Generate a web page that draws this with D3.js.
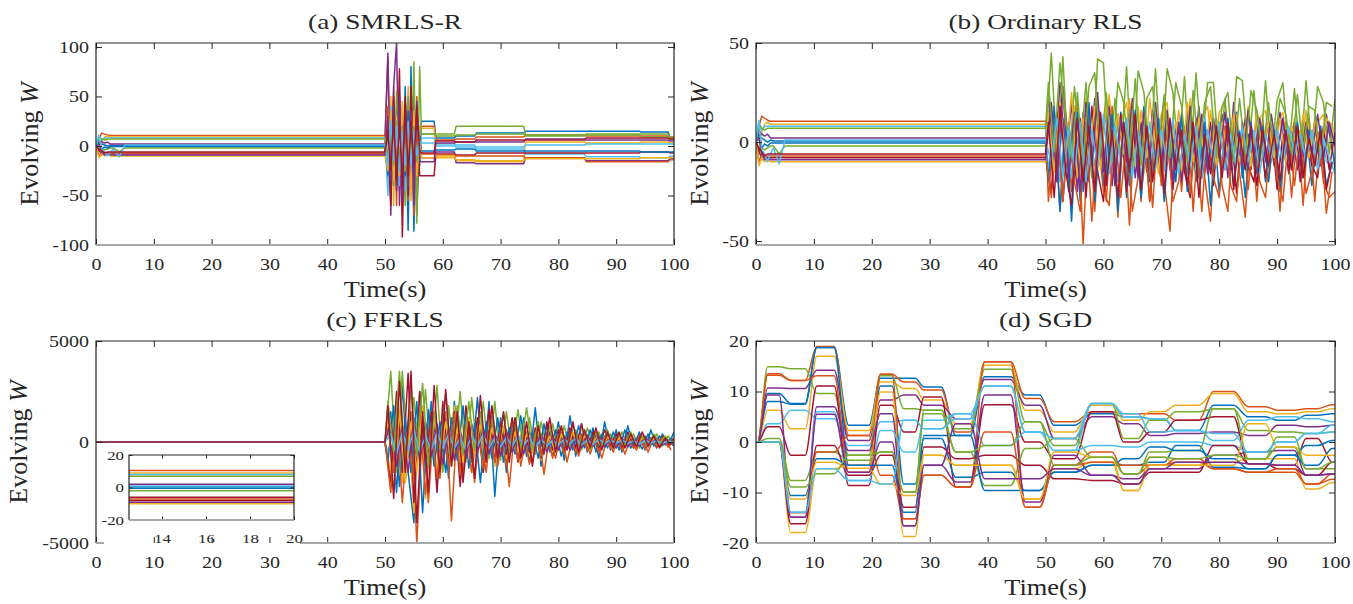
<!DOCTYPE html>
<html>
<head>
<meta charset="utf-8">
<script src="https://cdn.jsdelivr.net/npm/d3@7"></script>
<style>
  body { margin: 0; background: #fff; }
  svg { display: block; }
</style>
</head>
<body>
<svg id="fig" width="1353" height="604"></svg>
<script>
// MATLAB default line colours, cycled over the weights
const colors = ["#0072BD", "#D95319", "#EDB120", "#7E2F8E", "#77AC30", "#4DBEEE", "#A2142F"];

// start-up transient shared by the RLS variants (t = 0..5 s)
const warmTimes = [0, 0.5, 1, 1.5, 2, 2.5, 3, 4, 5];
const warmup = [
  [0, 4, 2, 1, 0, 1, 0.5, 0.5, 0.5],
  [0, 8, 13, 12, 11, 10.5, 10.5, 10.5, 10.5],
  [0, -6, 5, 9, 10, 9, 9, 9, 9],
  [0, 6, 4, 3, 4, 2, 2, 2, 2],
  [0, -5, -3, -4, -3, -2, -2, -6, -2],
  [0, 10, 6, 8, 8, 8, 8, 8, 8],
  [0, -4, -9, -7, -8, -8, -8, -8, -8],
  [0, 3, -3, -1, -2, -0.5, -0.5, -0.5, -0.5],
  [0, -10, -6, -8, -7, -7, -7, -7, -7],
  [0, -12, -8, -10, -9, -10, -10, -10, -10],
  [0, 2, -6, -9, -8, -9, -9, -9, -9],
  [0, 9, 7, 6, 7, 7, 7, 7, 7],
  [0, 11, -4, -6, -10, -6, -3, -11, 1],
  [0, -3, -5, -7, -6, -6, -6, -6, -6]
];
// weight values held from 6 s to 50 s
const levels = [0.5, 10.5, 9, 2, -2, 8, -8, -0.5, -7, -10, -9, 7, 1, -6];

// (a) SMRLS-R: burst after the change at 50 s, then piecewise constant
const aOscTimes = [50.5, 51, 51.5, 52, 52.5, 53, 53.5, 54, 54.5, 55, 55.5, 56];
const aOsc = [
  [10, -55, 40, -30, 45, -40, 60, -85, 80, -86, 40, -20],
  [90, -40, 60, -60, 50, -30, 45, -55, 55, -70, 50, -10],
  [-20, 50, -60, 40, -45, 45, -50, 60, -55, 45, -60, 20],
  [94, -70, 60, 105, -60, 30, -40, 40, -30, 60, -70, 10],
  [-15, 30, -40, 55, -30, 20, -60, 50, -40, 85, -78, 80],
  [-50, 40, -30, 20, -40, 30, -45, 25, -40, 30, -20, 15],
  [20, -60, 50, -40, 78, -92, 40, -50, 60, -30, 30, -30],
  [-30, 20, -20, 30, -25, 25, -30, 35, -35, 30, -25, 10],
  [40, -30, 25, -20, 35, -35, 20, -40, 30, -20, 15, -10],
  [-25, 35, -35, 30, -30, 40, -25, 20, -50, 35, -30, 5],
  [30, -35, 40, -45, 50, -55, 45, -40, 35, -60, 45, -15],
  [-10, 15, -20, 25, -15, 20, -25, 15, -10, 20, -15, 12],
  [-20, 25, -15, 20, -25, 15, -20, 25, -20, 15, -10, 5],
  [15, -25, 30, -35, 25, -40, 50, -30, 25, -20, 40, -5]
];
const aStepTimes = [56.3, 58.8, 62.3, 65.8, 74.3, 84.8, 94.3, 99.3];
const aSteps = [
  [25, 8, 10, 13, 15, 15, 14, 8],
  [20, 6, 7, 9, 11, 10, 10, 9],
  [18, -12, -15, -16, 4, 3, 4, 3],
  [-12, -6, -17, -18, -12, -15, -15, -13],
  [12, 12, 20, 20, 11, 11, 9, 7],
  [8, 2, 1, -3, -8, -11, -12, -10],
  [-30, -8, -9, -7, -7, -7, -6, -7],
  [-5, -4, -3, -5, -5, -5, -6, -6],
  [-8, -9, -10, -10, -12, -16, -16, -14],
  [-12, -10, -14, -15, -13, -13, -12, -12],
  [-16, 3, 4, 4, 7, 6, 6, 5],
  [12, 10, 11, 12, 10, 12, 12, 8],
  [3, 0, -1, -1, 1, 2, 2, 2],
  [-7, 5, 4, 6, 6, 8, 8, 7]
];

// (b) ordinary RLS after 50 s, one value per second (odd weights half a second later)
const bAfter = [
  [15,-20,12,-25,18,-30,10,-15,20,-22, 8,-18,15,-28,12,-10,18,-20,5,-15, 14,-24,10,-12,16,-20,6,-14,12,-26, 8,-10,15,-18,4,-12,10,-20,6,-8, 12,-16,3,-10,8,-22,5,-8,10,-14],
  [-30,12,-35,15,-25,20,-52,14,-35,10, -30,18,-38,10,-42,15,-30,8,-33,12, -20,-45,10,-25,14,-35,8,-18,-40,12, -22,-35,10,-15,-38,8,-30,12,-20,6, -35,10,-28,8,-32,12,-30,5,-36,-15],
  [20,-10,25,-15,18,-20,22,-8,15,-12, 24,-14,10,20,-10,18,-16,22,-6,14, 20,-12,16,-8,22,-14,12,18,-10,15, 20,-8,14,-12,18,-6,12,16,-10,10, 15,-8,12,-10,16,-5,10,14,-6,10],
  [25,-15,30,-10,20,-25,15,-20,22,-12, 18,-22,14,-8,20,-18,10,-15,16,-10, 22,-14,8,-20,15,-10,18,-16,10,-12, 14,-18,20,-8,12,-14,16,-6,10,-12, 15,-10,8,-14,12,-6,10,-12,14,-4],
  [45,-10,43,-15,28,-5,30,-18,42,40, -12,22,-8,38,-15,36,25,-10,37,-12, 37,25,-8,33,-14,35,-5,30,30,-10, 22,-12,33,31,-6,26,-10,31,-8,21, 30,-5,27,-10,31,-4,28,20,-6,22],
  [-15,12,-20,10,-18,15,-22,8,-12,14, -16,10,-20,6,-14,12,-18,8,-10,12, -15,10,-12,6,-16,8,-10,12,-14,5, -12,10,-8,6,-14,8,-10,4,-12,8, -10,6,-8,10,-12,4,-6,8,-10,-12],
  [-25,15,-30,10,-20,12,-28,18,-15,-30, 8,-22,14,-25,10,-18,12,-30,6,-20, 10,-24,8,-15,-28,12,-18,6,-22,10, -14,8,-26,10,-12,-20,6,-18,8,-24, 4,-15,10,-20,6,-12,-18,8,-14,5],
  [-20,18,-35,12,-40,15,-25,20,-30,8, -18,14,-35,10,-22,16,-28,6,-15,12, -30,8,-20,14,-25,6,-18,10,-32,8, -15,12,-22,5,-28,10,-16,8,-20,6, -25,4,-14,10,-18,6,-12,8,-22,-10],
  [-28,8,-30,5,-20,-35,10,-40,6,-25, -32,8,-28,4,-35,-18,6,-30,10,-22, 5,-30,-20,8,-26,4,-35,6,-18,-28, 8,-22,-30,6,-24,4,-20,-28,6,-18, -30,4,-22,6,-26,-15,5,-20,-28,-25],
  [15,-15,20,-10,25,-18,12,-8,18,-14, 20,-10,14,-6,22,-12,16,-8,12,-16, 18,-6,10,-14,20,-10,12,-8,16,-12, 10,-6,14,-10,8,-12,16,-4,10,-8, 12,-10,8,-6,14,-8,10,-4,12,8],
  [20,-20,28,-18,15,-25,20,-12,25,-15, 18,-20,12,-10,22,-18,15,-8,20,-12, 16,-20,10,-14,18,-10,14,-16,12,-8, 15,-14,10,-12,16,-8,12,-10,14,-6, 12,-10,8,-12,10,-6,14,-8,10,-2],
  [30,-5,40,10,-8,25,-12,28,35,-6, 25,-10,30,20,-8,32,-12,22,28,-4, 24,-8,30,18,-10,26,-6,20,28,-8, 18,25,-10,22,-6,26,16,-8,20,-4, 22,14,-6,24,-4,18,16,-8,20,18],
  [-10,12,-18,8,-14,10,-20,6,-12,14, -16,8,-10,12,-18,5,-12,10,-14,6, -10,12,-16,4,-12,8,-18,6,-10,10, -14,4,-12,8,-10,6,-16,4,-8,6, -12,8,-6,4,-10,6,-14,2,-8,-16],
  [10,-28,18,-15,-32,12,-20,8,-25,15, -22,6,-28,10,-15,14,-24,8,-20,4, -26,12,-14,6,-22,10,-28,4,-16,8, -18,10,-24,4,-14,8,-22,6,-12,4, -20,6,-14,8,-18,2,-12,6,-24,-10]
];

// (c) FFRLS after 50 s, same sampling as (b)
const cAfter = [
  [1500,-2500,2800,-1500,-4000,2500,-1000,2000,-2000,1500, -1800,2000,-1200,1500,-1000,2200,-1500,2000,-2700,1200, -1500,1000,-800,1200,-1000,1700,-1200,800,-600,1000, -900,1300,-700,900,-500,700,-800,1000,-400,600, -500,800,-300,500,-400,600,-300,400,-200,500],
  [800,-1500,1200,-2000,1500,-5000,800,-3000,1200,-1800, 1500,-3900,1000,-1500,1200,-2000,800,-1500,1000,-1200, 600,-2200,800,-1200,500,-1000,700,-1600,400,-800, 500,-1000,300,-700,400,-600,300,-800,200,-500, 300,-600,200,-400,300,-500,200,-300,100,-400],
  [-1500,1500,-2000,1000,-3500,2000,-2800,1500,-1500,1000, -1200,1800,-1000,800,-1500,1200,-800,1000,-1200,700, -800,1200,-600,900,-700,500,-900,600,-500,700, -600,500,-400,700,-300,400,-500,300,-300,400, -300,400,-200,300,-300,200,-250,300,-200,200],
  [600,-900,800,-700,500,-800,900,-600,700,-500, 800,-600,500,-700,600,-400,700,-500,400,-600, 500,-400,600,-300,400,-500,300,-400,500,-300, 400,-300,300,-400,200,-300,400,-200,300,-250, 250,-200,300,-150,200,-250,150,-200,200,-100],
  [3500,-1500,3500,-800,2200,-1200,2600,-1000,2800,-1500, 1800,-700,2500,-1000,2200,-600,2000,-800,2000,-900, 1500,-500,1600,-400,1200,-600,1000,-300,900,-400, 800,-300,600,-400,700,-200,500,-300,400,-200, 500,-200,400,-300,300,-150,400,-200,300,-150],
  [-500,600,-400,700,-600,400,-500,300,-400,500, -300,400,-500,300,-400,200,-300,400,-200,300, -250,300,-200,250,-300,200,-150,250,-200,150, -200,150,-250,100,-150,200,-100,150,-120,100, -100,150,-80,100,-120,60,-100,80,-60,50],
  [-2000,2500,-1500,3400,-3000,2500,-1200,1500,-2500,2000, -1000,1500,-2200,1800,-800,1200,-1500,1600,-1000,1000, -600,1200,-1000,800,-500,700,-800,1000,-400,600, -500,700,-300,900,-400,500,-300,600,-200,400, -300,500,-200,300,-350,200,-250,300,-150,200],
  [-1000,1800,-2200,1200,-1500,2000,-3500,1600,-1200,1000, -1500,1200,-900,1800,-1300,900,-2000,1000,-800,1200, -1000,700,-600,1300,-700,500,-800,900,-500,600, -700,500,-400,800,-300,600,-500,400,-300,500, -400,600,-300,200,-350,400,-200,300,-150,200],
  [-2500,1200,-3000,800,-2000,1500,-2600,800,-1800,1000, -1200,1400,-1600,900,-1500,700,-1300,600,-1000,500, -1200,600,-900,400,-1100,500,-700,300,-800,400, -600,300,-500,400,-400,200,-500,300,-300,200, -400,200,-300,250,-350,150,-200,200,-250,100],
  [1200,-2500,1600,-2000,1000,-1500,1800,-1000,1200,-800, 1000,-1200,700,-1000,1200,-600,900,-800,700,-500, 800,-600,500,-700,400,-500,600,-400,300,-500, 400,-300,500,-200,300,-400,200,-300,250,-200, 200,-250,300,-150,200,-200,150,-100,200,-100],
  [1000,-1200,800,-1500,1200,-900,1000,-700,900,-1100, 700,-900,600,-800,900,-500,700,-600,500,-700, 600,-500,400,-600,500,-300,400,-500,300,-400, 300,-400,250,-300,350,-200,300,-250,200,-300, 200,-250,150,-200,250,-100,200,-150,100,-200],
  [2000,-500,3500,-1000,2600,-700,2900,-1200,1500,-500, 2400,-800,1800,-600,2000,-400,1500,-900,1300,-500, 1400,-600,1200,-300,1700,-400,1000,-500,800,-300, 700,-300,900,-200,600,-400,500,-200,600,-300, 400,-200,500,-150,300,-200,400,-100,300,-100],
  [400,-600,500,-400,600,-500,300,-400,500,-300, 400,-300,200,-400,300,-200,400,-300,200,-250, 250,-200,300,-150,200,-250,150,-200,100,-150, 150,-100,200,-150,100,-120,150,-80,100,-60, 100,-80,60,-100,80,-50,70,-60,50,-40],
  [1800,-2800,3000,-1500,3500,-4000,1500,-2500,2800,-1500, 2600,-1200,1500,-2000,1000,-1800,2300,-1000,1800,-800, 1500,-1000,1200,-800,1000,-1200,800,-600,1200,-500, 800,-400,1000,-500,600,-300,700,-400,500,-300, 500,-300,400,-250,500,-200,300,-250,200,-150]
];

// (d) SGD: plateau [start, end] times and the level of every weight on each plateau
const dPhases = [[0, 0.3], [2, 4], [6, 8.5], [10.5, 13.5], [16, 19.5], [21.5, 23.5], [25.5, 27.5],
  [29, 32], [34.5, 37], [39.5, 44], [46.5, 49], [51.5, 55], [58, 61.5], [63.5, 66], [68, 70.5],
  [72.5, 76.5], [79, 82.5], [85, 88], [90, 93], [95, 97], [99.5, 100]];
const dLevels = [
  [0, 8, 7.5, 18.7, 3.3, 12.6, 12.6, 10.9, 1.3, 12.9, 9.3, 3.3, 5.6, 5, 4.6, 2.3, 7.3, 5, 4.3, 5.3, 5.6],
  [0, 13.5, 12.2, 18.9, 1.3, 13.4, 11.9, 10.3, 2, 15.9, 8.6, 4, 6, 5.6, 5.6, 4.3, 10, 7, 6.3, 6.6, 7.4],
  [0, 6.3, 2.6, 17, 2.3, 11.9, 10.6, 8.3, 3.6, 15.2, 6.3, 2, 7.3, 4.3, 6, 7.3, 9.6, 6, 5.6, 6, 6.6],
  [0, 10.7, 10.6, 14.2, 0.3, 8.3, 9.3, 7.3, 4.6, 12.4, 7.3, 0.7, 5, 3.6, 1.3, 1.7, 2, 1.3, 3.3, 3, 3.3],
  [0, 14.9, 14.5, 9.6, -2.6, 13.1, 6.6, 6.3, 2.6, 14.4, 4, -0.7, 7.6, 0.7, 4.3, 6, 6.6, 2.3, 2, 1.7, 2],
  [0, 3.6, 6.3, 4.6, -0.7, 4, 4.3, 2.6, 5.6, 11.1, 2, -1.7, 7.6, 5, 4.6, 2.3, 0.3, 4.3, 5, 4.6, 4],
  [0, 3, -2.6, 11.1, -8.6, 7.3, 2, 8.9, -8.9, 7.4, 0, -3.3, 6, 0, 2, 4.3, 5, -4.3, -4.6, 0.7, -4],
  [0, 9.6, 7.6, 18.7, -4.6, 11.1, -8.3, 0.7, -7, -6, -9.6, -6, -4.6, -4.6, -4, -0.7, -5, -5.3, -2.6, -0.7, 0.3],
  [0, 13.2, 12.2, 13.1, -6, 13.4, -15.2, -6.6, -8.9, 15.9, -12.9, -4.6, -2, -6.3, -4.6, -4, -5.3, -6, -6, -8.3, -6.3],
  [0, 0, -17.9, -5.3, -4.6, 9.9, -18.7, -2.6, -4.6, -4.6, -11.3, -5.3, -4, -9.6, -3, -4.6, -4, -3.3, -3.3, -9.3, -8],
  [0, 9.3, -14.9, 7, -1.7, 5.6, -16.6, -4.6, -7.9, 9.3, -11.9, -2.6, -6.6, -7.3, -5.3, -5.3, -2.6, -2, -1.7, -6.6, -6.3],
  [0, 0.7, -7.6, -2, -3.6, -2, -9.9, 6.3, -2, -8.6, -1.3, 0.7, -3, -6.3, -2, -1.7, 6.6, -3.3, -1, -5.3, -5.3],
  [0, 0, -13.9, 6, -7.6, 2.3, -2, 4.3, 5.6, -0.7, 2, -1.7, -0.7, -1, 0, 0, -0.7, -2, 0, 1.7, 2],
  [0, 0, -16.2, -0.7, -6.6, -2.6, -12.9, -1, -3.3, -2.6, -4.6, -7.3, -7.6, -8.3, -6, -6, -0.7, -4.3, -5.3, -6.6, -4],
  [0, 0, -10.6, -3.3, -4.6, -4.6, -13.9, 1.3, 1.3, -9.6, -9.6, -6, -4.6, -3.3, -1, -1.7, -3.3, -5.3, -2.6, -4.6, -1.3],
  [0, 0, -14, -2, 1.3, -6.6, -15.2, -6.6, -8.9, 2, -12.9, -4.6, -4, -4.6, -4.6, -3.3, -5.3, -6, -5.3, -8.3, -7.4],
  [0, 0, -11.3, -4, -5.2, -8.3, -10.6, -2.6, -4.6, -4.6, -11.3, -2, -3, -9.6, -4.6, -4.6, -4.6, 3.6, -1, -2.6, -2.6],
  [0, 0, -14.9, 5.5, -6, 0, -16.6, -4.6, 3.6, -7.3, -7.3, -5.3, -6.6, -8.3, -5.3, -4, -4, -4.3, -4.6, -6.6, -6.3],
  [0, 0, -8.9, -6.3, -2.6, -2, -9.9, 5.6, -2, -0.7, 4, -4.6, -3, -6.3, -3, -3.3, -2.6, -3.3, 1, -5.3, -4],
  [0, 0, -13.9, -5.3, -7.6, -8.3, 4.3, 2.6, 4.6, 11.1, 2, 0.7, 7.6, 5.6, 2, 2.3, 1.7, -2, 0, 1.7, 3.3]
];

const timeTicks = [0, 10, 20, 30, 40, 50, 60, 70, 80, 90, 100];
const insetTimeTicks = [14, 16, 18, 20];

// ---- build point lists ----
function heldSeries(i) {
  return warmTimes.map((t, k) => [t, warmup[i][k]])
    .concat([[6, levels[i]], [50, levels[i]]]);
}
const seriesA = levels.map((L, i) => {
  const pts = heldSeries(i);
  aOscTimes.forEach((t, k) => pts.push([t, aOsc[i][k]]));
  aStepTimes.forEach((t, k) => {
    const end = k + 1 < aStepTimes.length ? aStepTimes[k + 1] - 0.3 : 100;
    pts.push([t, aSteps[i][k]], [end, aSteps[i][k]]);
  });
  return pts;
});
const afterSeries = after => levels.map((L, i) => {
  const pts = heldSeries(i);
  const t0 = i % 2 ? 50.5 : 51;
  after[i].forEach((v, k) => pts.push([t0 + k, v]));
  return pts;
});
const seriesB = afterSeries(bAfter);
const seriesC = afterSeries(cAfter);
const seriesD = dLevels.map(vals => dPhases.flatMap((ph, k) => [[ph[0], vals[k]], [ph[1], vals[k]]]));

// ---- drawing ----
const svg = d3.select('#fig');
const defs = svg.append('defs');
const ink = '#262626';
const serif = "'Liberation Serif', 'Times New Roman', serif";

function addText(x, y, str, size, sx) {
  return svg.append('text')
    .attr('transform', `translate(${x},${y}) scale(${sx},1)`)
    .attr('text-anchor', 'middle')
    .style('font-family', serif).attr('font-size', size).attr('fill', ink)
    .text(str);
}

function drawAxes(p) {
  const [x0, y0, x1, y1] = p.box;
  const x = d3.scaleLinear().domain(p.xDomain).range([x0, x1]);
  const y = d3.scaleLinear().domain(p.yDomain).range([y1, y0]);
  const g = svg.append('g');
  if (p.fill) {
    g.append('rect').attr('x', x0).attr('y', y0).attr('width', x1 - x0).attr('height', y1 - y0).attr('fill', '#fff');
  }
  defs.append('clipPath').attr('id', 'clip-' + p.id).append('rect')
    .attr('x', x0).attr('y', y0).attr('width', x1 - x0).attr('height', y1 - y0);

  const line = d3.line().x(d => x(d[0])).y(d => y(d[1])).curve(p.curve || d3.curveLinear);
  g.append('g').attr('clip-path', `url(#clip-${p.id})`)
    .selectAll('path').data(p.series).join('path')
    .attr('d', line)
    .attr('fill', 'none')
    .attr('stroke', (d, i) => colors[i % colors.length])
    .attr('stroke-width', 1.5)
    .attr('stroke-linejoin', 'round');

  const tk = p.tick;
  const fmt = d => String(d);
  const bottom = g.append('g').attr('transform', `translate(0,${y1})`)
    .call(d3.axisBottom(x).tickValues(p.xTicks).tickSizeInner(-tk).tickSizeOuter(0).tickFormat(fmt));
  const top = g.append('g').attr('transform', `translate(0,${y0})`)
    .call(d3.axisTop(x).tickValues(p.xTicks).tickSizeInner(-tk).tickSizeOuter(0).tickFormat(''));
  const left = g.append('g').attr('transform', `translate(${x0},0)`)
    .call(d3.axisLeft(y).tickValues(p.yTicks).tickSizeInner(-tk).tickSizeOuter(0).tickFormat(fmt));
  const right = g.append('g').attr('transform', `translate(${x1},0)`)
    .call(d3.axisRight(y).tickValues(p.yTicks).tickSizeInner(-tk).tickSizeOuter(0).tickFormat(''));
  [bottom, top, left, right].forEach(a => {
    a.select('.domain').remove();
    a.attr('font-family', null).style('font-family', serif).attr('font-size', p.fontSize);
    a.selectAll('line').attr('stroke', ink).attr('stroke-width', 1);
    a.selectAll('text').attr('fill', ink);
  });
  bottom.selectAll('text').attr('y', p.xLabGap).attr('dy', 0)
    .attr('transform', `scale(${p.sx},1)`);
  left.selectAll('text').attr('x', -p.yLabGap / p.sx).attr('dy', '0.33em')
    .attr('transform', `scale(${p.sx},1)`);

  // box: dark on three sides, the bottom edge reads as a light grey band
  g.append('path').attr('d', `M${x0},${y1}V${y0}H${x1}V${y1}`)
    .attr('fill', 'none').attr('stroke', ink).attr('stroke-width', 1.2);
  const gaps = p.bottomGap ? [[x0, p.bottomGap[0]], [p.bottomGap[1], x1]] : [[x0, x1]];
  gaps.forEach(([a, b]) => g.append('line').attr('x1', a).attr('x2', b).attr('y1', y1).attr('y2', y1)
    .attr('stroke', '#a8a8a8').attr('stroke-width', 2));
}

const panels = [
  { id: 'a', title: '(a) SMRLS-R', box: [96, 43, 674, 245], yDomain: [-100, 104], yTicks: [-100, -50, 0, 50, 100], series: seriesA, ylabX: 38 },
  { id: 'c', title: '(c) FFRLS', box: [96, 341, 674, 543], yDomain: [-5000, 5000], yTicks: [-5000, 0, 5000], series: seriesC, ylabX: 27, bottomGap: [104, 300] },
  { id: 'b', title: '(b) Ordinary RLS', box: [756, 43, 1335, 245], yDomain: [-52, 50], yTicks: [-50, 0, 50], series: seriesB, ylabX: 708 },
  { id: 'd', title: '(d) SGD', box: [756, 341, 1335, 543], yDomain: [-20, 20], yTicks: [-20, -10, 0, 10, 20], series: seriesD, ylabX: 708, curve: d3.curveMonotoneX }
];

panels.forEach(p => {
  Object.assign(p, { xDomain: [0, 100], xTicks: timeTicks, tick: 6, fontSize: 16, sx: 1.25, xLabGap: 25, yLabGap: 7 });
  drawAxes(p);
  const [x0, y0, x1, y1] = p.box;
  const cx = (x0 + x1) / 2;
  addText(cx, y0 - 14, p.title, 21, 1.3);
  addText(cx, y1 + 52, 'Time(s)', 24, 1.1);
  const yl = svg.append('text')
    .attr('transform', `translate(${p.ylabX},${(y0 + y1) / 2}) rotate(-90)`)
    .attr('text-anchor', 'middle')
    .style('font-family', serif).attr('font-size', 26).attr('fill', ink);
  yl.append('tspan').text('Evolving ');
  yl.append('tspan').attr('font-style', 'italic').text('W');

  if (p.id === 'c') {
    // zoomed inset of the held weights
    drawAxes({ id: 'c-inset', box: [129, 455, 294, 520], xDomain: [12.5, 20], yDomain: [-20, 20],
      xTicks: insetTimeTicks, yTicks: [-20, 0, 20], series: seriesC, fill: true,
      tick: 3.5, fontSize: 13.5, sx: 1.25, xLabGap: 23, yLabGap: 5 });
  }
});
</script>
</body>
</html>
